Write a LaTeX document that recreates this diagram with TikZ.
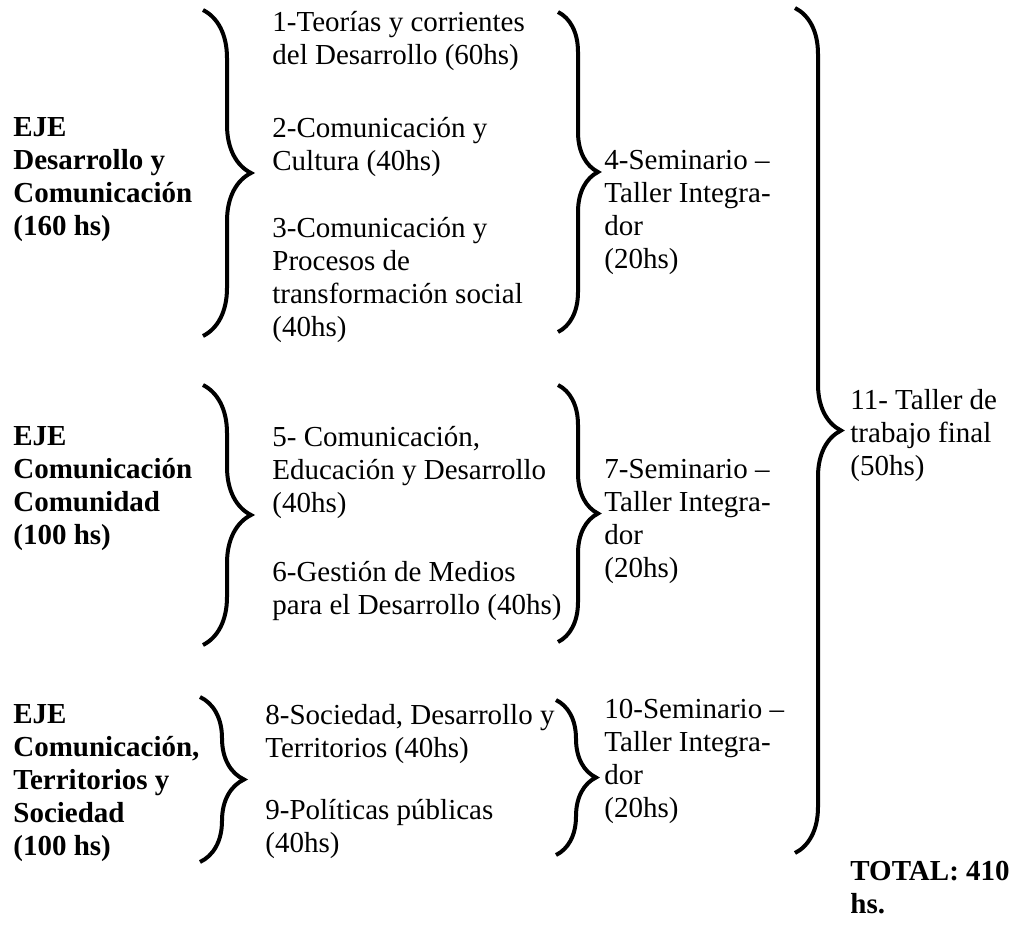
\documentclass[tikz,border=0pt]{standalone}
\usepackage{fontspec}
\setmainfont{Liberation Serif}
\usetikzlibrary{decorations.pathreplacing}

\tikzset{
	txt/.style={anchor=north west, inner sep=0pt, align=left, font=\fontsize{14.5}{16.5}\selectfont},
	eje/.style={txt, font=\fontsize{14.5}{16.5}\selectfont\bfseries},
	llave/.style={decorate, decoration={brace, amplitude=#1}, line width=2pt},
	llave/.default=24pt
}

\begin{document}
\begin{tikzpicture}[x=0.5pt, y=-0.5pt]
				\useasboundingbox (0,0) rectangle (1017,932);
				
				\node[eje] (eje1) at (13,117) {EJE\\Desarrollo y\\Comunicación\\(160 hs)};
				\node[eje] (eje2) at (13,426) {EJE\\Comunicación\\Comunidad\\(100 hs)};
				\node[eje] (eje3) at (13,704) {EJE\\Comunicación,\\Territorios y\\Sociedad\\(100 hs)};
				
				\node[txt] (m1) at (272,11) {1-Teorías y corrientes\\del Desarrollo (60hs)};
				\node[txt] (m2) at (272,117) {2-Comunicación y\\Cultura (40hs)};
				\node[txt] (m3) at (272,217) {3-Comunicación y\\Procesos de\\transformación social\\(40hs)};
				\node[txt] (m5) at (272,426) {5- Comunicación,\\Educación y Desarrollo\\(40hs)};
				\node[txt] (m6) at (272,561) {6-Gestión de Medios\\para el Desarrollo (40hs)};
				\node[txt] (m8) at (265,704) {8-Sociedad, Desarrollo y\\Territorios (40hs)};
				\node[txt] (m9) at (265,799) {9-Políticas públicas\\(40hs)};
				
				\node[txt] (m4) at (604,150) {4-Seminario –\\Taller Integra-\\dor\\(20hs)};
				\node[txt] (m7) at (604,459) {7-Seminario –\\Taller Integra-\\dor\\(20hs)};
				\node[txt] (m10) at (604,699) {10-Seminario –\\Taller Integra-\\dor\\(20hs)};
				
				\node[txt] (m11) at (850,389) {11- Taller de\\trabajo final\\(50hs)};
				\node[eje] (total) at (850,861) {TOTAL: 410\\hs.};
				
				\coordinate (b1a) at (203,10);  \coordinate (b1b) at (203,336);
				\coordinate (b2a) at (558,12);  \coordinate (b2b) at (558,332);
				\coordinate (b3a) at (203,385); \coordinate (b3b) at (203,645);
				\coordinate (b4a) at (558,385); \coordinate (b4b) at (558,642);
				\coordinate (b5a) at (200,697); \coordinate (b5b) at (200,862);
				\coordinate (b6a) at (556,700); \coordinate (b6b) at (556,855);
				\coordinate (b7a) at (795,8);   \coordinate (b7b) at (795,853);
				
				\draw[llave] (b1a) -- (b1b);
				\draw[llave=20pt] (b2a) -- (b2b);
				\draw[llave] (b3a) -- (b3b);
				\draw[llave=20pt] (b4a) -- (b4b);
				\draw[llave=22pt] (b5a) -- (b5b);
				\draw[llave=20pt] (b6a) -- (b6b);
				\draw[llave=23pt] (b7a) -- (b7b);
			\end{tikzpicture}
\end{document}
